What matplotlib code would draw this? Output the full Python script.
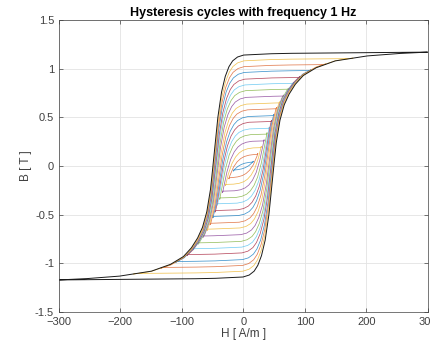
import numpy as np
import matplotlib.pyplot as plt

plt.rcParams['font.family'] = ['Liberation Sans', 'DejaVu Sans']

# outer (major) loop, rising branch
H_major = [-300, -200, -100, -50, 0, 10, 18, 24, 30, 36, 42, 48, 54, 60, 67,
           75, 85, 98, 119, 150, 200, 250, 300]
B_major = [-1.17, -1.165, -1.16, -1.155, -1.14, -1.12, -1.08, -1.02, -0.92, -0.76,
           -0.50, -0.12, 0.24, 0.47, 0.63, 0.74, 0.84, 0.93, 1.01, 1.08, 1.13,
           1.155, 1.17]

# tip induction of each nested cycle (innermost first)
B_peak = [0.05, 0.13, 0.20, 0.27, 0.34, 0.40, 0.47, 0.53, 0.60, 0.66,
          0.73, 0.80, 0.86, 0.92, 0.99, 1.05, 1.11, 1.17]
# field where each cycle crosses B = 0
H_cross = [8, 15, 20, 24, 28, 31, 33, 35, 37, 39, 41, 42.5, 44, 45, 46.5, 47.5, 48.5, 49.5]

# MATLAB default colour order
colors = ['#0072BD', '#D95319', '#EDB120', '#7E2F8E', '#77AC30', '#4DBEEE', '#A2142F']

Bs = B_major[-1]
H_major = np.array(H_major, dtype=float)
G_major = (np.array(B_major) / Bs + 1) / 2  # switching field distribution (Preisach)


def G(h):
    return np.interp(h, H_major, G_major)


def G_inv(g):
    return np.interp(g, G_major, H_major)


fig = plt.figure(figsize=(4.30, 3.51), dpi=100)
ax = fig.add_axes([0.137, 0.111, 0.858, 0.832])

for k, bp in enumerate(B_peak):
    gm = np.sqrt(bp / Bs)
    hm = G_inv(gm)
    d = max(G_inv(gm / 2) - H_cross[k], 0.0)   # pull smaller cycles inward
    h = np.linspace(-(hm - d), hm - d, 600)
    b_up = Bs * gm * (2 * G(h + d) - gm)
    b_up[0] = -bp
    # falling branch is the point mirror of the rising one
    hh = np.concatenate([h, -h])
    bb = np.concatenate([b_up, -b_up])
    if k == len(B_peak) - 1:
        ax.plot(hh, bb, color='#1a1a1a', lw=0.7)
    else:
        ax.plot(hh, bb, color=colors[k % len(colors)], lw=0.55, alpha=0.75)

ax.set_xlim(-300, 300)
ax.set_ylim(-1.5, 1.5)
ax.set_xticks(np.arange(-300, 301, 100))
ax.set_yticks(np.arange(-1.5, 1.51, 0.5))
ax.yaxis.set_major_formatter(plt.FormatStrFormatter('%g'))
ax.grid(True, color='#e3e3e3', lw=0.6)
ax.set_axisbelow(True)
ax.tick_params(direction='in', top=True, right=True, labelsize=8, colors='#404040',
               length=3, width=0.5)
for s in ax.spines.values():
    s.set_color('#404040')
    s.set_linewidth(0.5)

ax.set_title('Hysteresis cycles with frequency 1 Hz', fontsize=9, fontweight='bold', pad=3)
ax.set_xlabel('H [ A/m ]', fontsize=8.5, color='#404040', labelpad=1)
ax.set_ylabel('B [ T ]', fontsize=8.5, color='#404040', labelpad=2)

fig.savefig('out.png', dpi=100)
